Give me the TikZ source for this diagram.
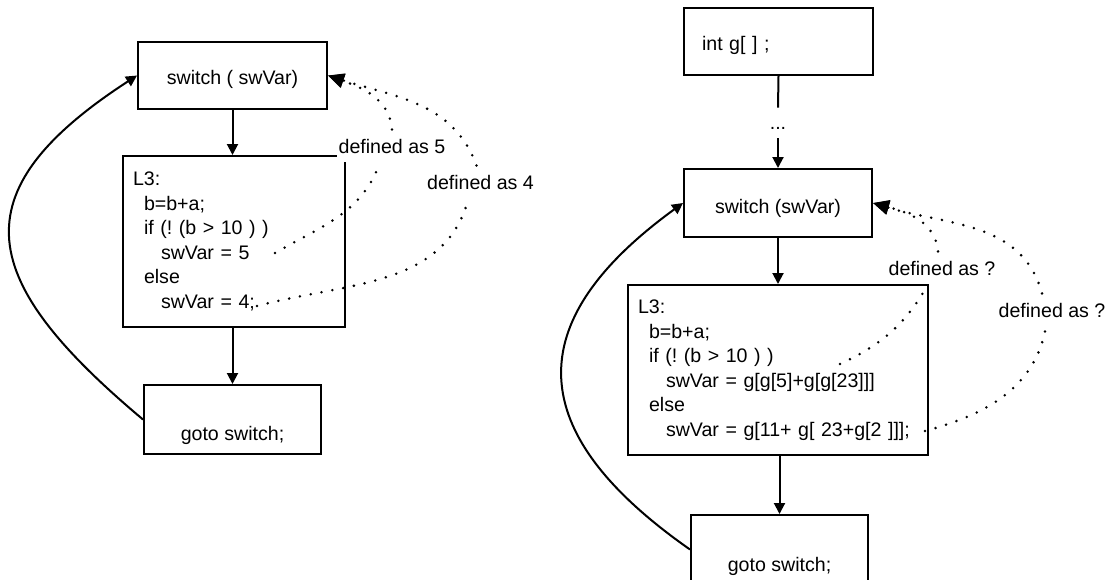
\documentclass[tikz,border=0pt]{standalone}
\usepackage{fontspec}
\setmainfont{Liberation Sans}
\usetikzlibrary{arrows.meta}
\frenchspacing
\newcommand{\indone}{\hspace*{5.5pt}}
\newcommand{\indtwo}{\hspace*{14pt}}

\begin{document}
\begin{tikzpicture}[x=0.5pt,y=-0.5pt,font=\fontsize{9.8pt}{12.25pt}\selectfont,
  box/.style={draw,line width=1pt,inner sep=0pt},
  code/.style={box,align=left,inner xsep=5pt},
  note/.style={fill=white,inner xsep=1pt,inner ysep=4.5pt},
  flow/.style={line width=1pt,-{Triangle[length=5.5pt,width=5.5pt]}},
  dotline/.style={line width=1.4pt,line cap=round,dash pattern=on 0pt off 5.5pt},
  link/.style={dotline,-{Triangle[length=8pt,width=7pt]}}]
\useasboundingbox (0,0) rectangle (1108,579);
\clip (0,0) rectangle (1108,579);
% left program
\node[box,minimum width=94.5pt,minimum height=33.5pt,text height=8.8pt,text depth=0pt] (switchA) at (232.5,75.5) {switch ( swVar)};
\node[code,minimum width=111pt,minimum height=85.5pt,text width=101pt] (blockA) at (234,241.5)
  {L3:\\\indone b=b+a;\\\indone if (! (b > 10 ) )\\\indtwo swVar = 5\\\indone else\\\indtwo swVar = 4;};
\node[box,minimum width=88.5pt,minimum height=34.5pt,text height=21.2pt,text depth=0pt] (gotoA) at (232.5,419.5) {goto switch;};
\node[note] (noteA5) at (392,146) {defined as 5};
\node[note] (noteA4) at (480.5,182) {defined as 4};
\coordinate (fromA5) at (275,253);
\coordinate (fromA4) at (257,306);
\draw[flow] (switchA.south) -- (switchA.south |- blockA.north);
\draw[flow] (blockA.south -| gotoA.north) -- (gotoA.north);
\draw[flow] (gotoA.west) to[out=140,in=-147,looseness=1.6] (switchA.west);
\draw[dotline] (fromA5) to[out=30,in=-110] ([xshift=-6pt]noteA5.south);
\draw[link] (noteA5.north) to[out=95,in=-20] (switchA.east);
\draw[dotline] (fromA4) to[out=15,in=-105] ([xshift=-6pt]noteA4.south);
\draw[link] ([xshift=-2pt]noteA4.north) to[out=110,in=-18] (switchA.east);
% right program
\node[note] (noteB1) at (942,268) {defined as ?};
\node[note] (noteB2) at (1052,310) {defined as ?};
\node[box,align=left,minimum width=94.5pt,minimum height=33.5pt,inner xsep=9pt,text width=76.5pt,text height=9pt,text depth=0pt] (intB) at (778.5,41.5) {int g[ ] ;};
\node[inner sep=0pt,minimum height=15pt,text height=6pt,text depth=0pt] (dotsB) at (778,123) {...};
\node[box,minimum width=94pt,minimum height=34pt,text height=10pt,text depth=0pt] (switchB) at (778,203) {switch (swVar)};
\node[code,minimum width=150pt,minimum height=85pt,text width=140pt] (blockB) at (778,370)
  {L3:\\\indone b=b+a;\\\indone if (! (b > 10 ) )\\\indtwo swVar = g[g[5]+g[g[23]]]\\\indone else\\\indtwo swVar = g[11+ g[ 23+g[2 ]]];};
\node[box,minimum width=88.5pt,minimum height=34.5pt,text height=21.5pt,text depth=0pt] (gotoB) at (779.5,549.5) {goto switch;};
\coordinate (fromB1) at (840,364);
\coordinate (fromB2) at (925,431);
\draw[line width=1pt] (intB.south) -- (dotsB.north);
\draw[flow] (dotsB.south) -- (switchB.north);
\draw[flow] (switchB.south) -- (blockB.north);
\draw[flow] (blockB.south -| gotoB.north) -- (gotoB.north);
\draw[flow] (gotoB.west) to[out=145,in=-144,looseness=1.5] (switchB.west);
\draw[dotline] (fromB1) to[out=25,in=-120] ([xshift=-7pt]noteB1.south);
\draw[link] ([xshift=-2pt]noteB1.north) to[out=95,in=-15] (switchB.east);
\draw[dotline] (fromB2) to[out=15,in=-100] ([xshift=-3pt]noteB2.south);
\draw[link] ([xshift=-5pt]noteB2.north) to[out=105,in=-17] (switchB.east);
\end{tikzpicture}
\end{document}
